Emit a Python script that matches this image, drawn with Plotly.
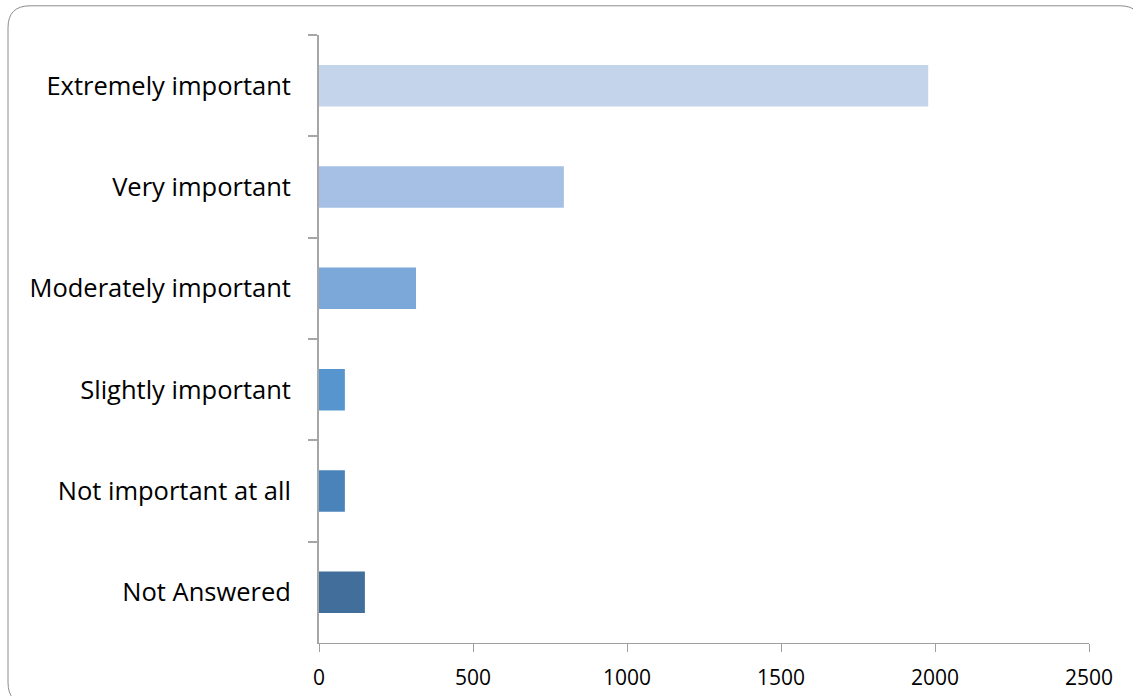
import plotly.graph_objects as go

categories = ["Extremely important", "Very important", "Moderately important",
              "Slightly important", "Not important at all", "Not Answered"]
values = [1978, 795, 315, 84, 84, 149]
colors = ["#C4D5EB", "#A5C0E4", "#7BA8D9", "#5795CE", "#4A83BA", "#426E9B"]
x_ticks = [0, 500, 1000, 1500, 2000, 2500]

SY = 0.99  # observed vertical compression of the capture
W = 1133
H = round(696 / SY)
L, R = 319, 1089
T, B = 35 / SY, 639 / SY

fig = go.Figure(go.Bar(
    y=categories, x=values, orientation="h",
    marker=dict(color=colors, line=dict(width=0)),
    width=0.41,
))

# rounded frame (pixel -> paper)
def px(x):
    return (x - L) / (R - L)

def py(y):
    y = y / SY
    return (B - y) / (B - T)

fl, ft, fr, fb, r = 8, 6, 1142, 700, 22
path = (f"M {px(fl + r)},{py(ft)} L {px(fr - r)},{py(ft)} "
        f"Q {px(fr)},{py(ft)} {px(fr)},{py(ft + r)} "
        f"L {px(fr)},{py(fb - r)} Q {px(fr)},{py(fb)} {px(fr - r)},{py(fb)} "
        f"L {px(fl + r)},{py(fb)} Q {px(fl)},{py(fb)} {px(fl)},{py(fb - r)} "
        f"L {px(fl)},{py(ft + r)} Q {px(fl)},{py(ft)} {px(fl + r)},{py(ft)} Z")

fig.add_shape(type="path", path=path, xref="paper", yref="paper",
              line=dict(color="#8C8C8C", width=1), layer="below")

fig.update_layout(
    width=W, height=H,
    margin=dict(l=L, r=W - R, t=T, b=H - B, pad=0),
    paper_bgcolor="white", plot_bgcolor="white",
    showlegend=False,
    font=dict(family="Open Sans", color="#000000"),
    bargap=0.59,
)
fig.update_xaxes(
    range=[0, 2500], tickvals=x_ticks, ticktext=[str(v) for v in x_ticks],
    showgrid=False, zeroline=False,
    showline=True, linecolor="#A0A0A0", linewidth=1,
    ticks="outside", ticklen=8, tickcolor="#A0A0A0", tickwidth=1,
    tickfont=dict(size=21, family="Open Sans", color="#000000"),
    ticklabelstandoff=8,
    fixedrange=True,
)
fig.update_yaxes(
    categoryorder="array", categoryarray=categories, autorange="reversed",
    showgrid=False, zeroline=False,
    showline=True, linecolor="#A6A6A6", linewidth=2,
    ticks="outside", ticklen=9, tickcolor="#A6A6A6", tickwidth=1.5,
    tickson="boundaries",
    tickfont=dict(size=25.5, family="Open Sans", color="#000000"),
    ticklabelstandoff=21,
    fixedrange=True,
)

css = ("var s=document.createElement('style');"
       "s.textContent='html,body{margin:0;padding:0;}';"
       "document.head.appendChild(s);")
fig.write_html("out.html", config={"displayModeBar": False}, post_script=css)
